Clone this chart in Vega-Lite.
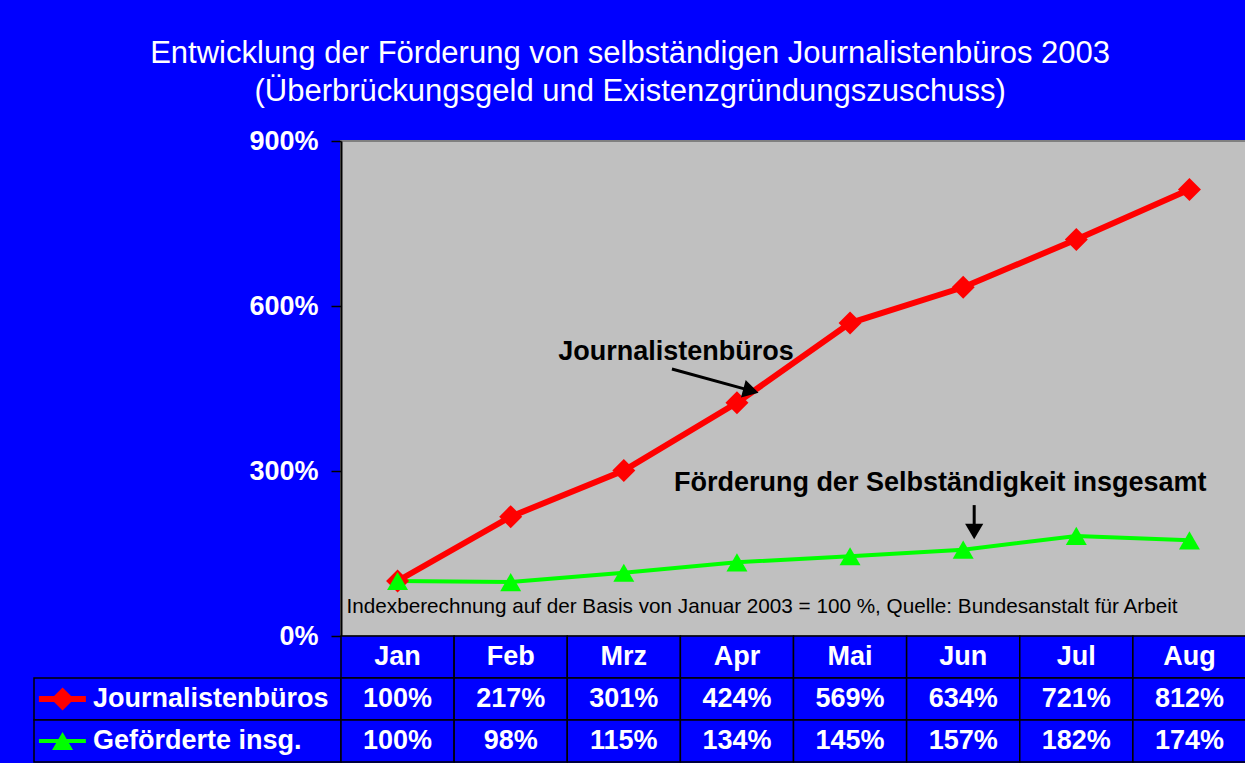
{
  "$schema": "https://vega.github.io/schema/vega-lite/v6.json",
  "background": "#0000FF",
  "padding": {"left": 33, "top": 38, "right": 0, "bottom": 0},
  "datasets": {
    "monate": [
      {"Monat": "Jan", "Journalistenbueros": 100, "Gefoerderte": 100},
      {"Monat": "Feb", "Journalistenbueros": 217, "Gefoerderte": 98},
      {"Monat": "Mrz", "Journalistenbueros": 301, "Gefoerderte": 115},
      {"Monat": "Apr", "Journalistenbueros": 424, "Gefoerderte": 134},
      {"Monat": "Mai", "Journalistenbueros": 569, "Gefoerderte": 145},
      {"Monat": "Jun", "Journalistenbueros": 634, "Gefoerderte": 157},
      {"Monat": "Jul", "Journalistenbueros": 721, "Gefoerderte": 182},
      {"Monat": "Aug", "Journalistenbueros": 812, "Gefoerderte": 174}
    ],
    "reihen": [
      {"Reihe": "Journalistenbueros", "Bezeichnung": "Journalistenbüros"},
      {"Reihe": "Gefoerderte", "Bezeichnung": "Geförderte insg."}
    ],
    "leer": [{"Platz": 1}]
  },
  "title": {
    "text": ["Entwicklung der Förderung von selbständigen Journalistenbüros 2003", "(Überbrückungsgeld und Existenzgründungszuschuss)"],
    "color": "white",
    "font": "Liberation Sans",
    "fontSize": 31,
    "fontWeight": "normal",
    "lineHeight": 38,
    "anchor": "middle",
    "offset": 18,
    "dx": -10
  },
  "config": {
    "view": {"stroke": null},
    "font": "Liberation Sans"
  },
  "columns": 2,
  "bounds": "flush",
  "spacing": 0,
  "concat": [
    {
      "width": 307,
      "height": 495,
      "data": {"name": "leer"},
      "mark": {"type": "point", "opacity": 0},
      "encoding": {}
    },
    {
      "width": 905,
      "height": 495,
      "view": {"fill": "#C0C0C0", "stroke": "#808080", "strokeWidth": 2},
      "layer": [
        {
          "data": {"name": "monate"},
          "transform": [{"fold": ["Journalistenbueros", "Gefoerderte"], "as": ["Reihe", "Wert"]}],
          "mark": {"type": "line"},
          "encoding": {
            "x": {
              "field": "Monat",
              "type": "ordinal",
              "scale": {"type": "band", "domain": ["Jan", "Feb", "Mrz", "Apr", "Mai", "Jun", "Jul", "Aug"], "paddingInner": 0, "paddingOuter": 0},
              "axis": null
            },
            "y": {
              "field": "Wert",
              "type": "quantitative",
              "scale": {"domain": [0, 900], "nice": false},
              "axis": {
                "values": [0, 300, 600, 900],
                "labelExpr": "datum.value + '%'",
                "grid": false,
                "title": null,
                "domainColor": "black",
                "domainWidth": 2,
                "tickColor": "black",
                "tickSize": 10,
                "tickWidth": 1.5,
                "labelColor": "white",
                "labelFont": "Liberation Sans",
                "labelFontSize": 27,
                "labelFontWeight": "bold",
                "labelPadding": 13
              }
            },
            "color": {"field": "Reihe", "type": "nominal", "scale": {"domain": ["Journalistenbueros", "Gefoerderte"], "range": ["#FF0000", "#00FF00"]}, "legend": null},
            "strokeWidth": {"field": "Reihe", "type": "nominal", "scale": {"domain": ["Journalistenbueros", "Gefoerderte"], "range": [6, 4]}, "legend": null}
          }
        },
        {
          "data": {"name": "monate"},
          "transform": [{"fold": ["Journalistenbueros", "Gefoerderte"], "as": ["Reihe", "Wert"]}],
          "mark": {"type": "point", "filled": true, "opacity": 1},
          "encoding": {
            "x": {"field": "Monat", "type": "ordinal"},
            "y": {"field": "Wert", "type": "quantitative"},
            "color": {"field": "Reihe", "type": "nominal", "legend": null},
            "shape": {"field": "Reihe", "type": "nominal", "scale": {"domain": ["Journalistenbueros", "Gefoerderte"], "range": ["diamond", "triangle-up"]}, "legend": null},
            "size": {"field": "Reihe", "type": "nominal", "scale": {"domain": ["Journalistenbueros", "Gefoerderte"], "range": [529, 440]}, "legend": null}
          }
        },
        {
          "data": {"name": "leer"},
          "mark": {"type": "text", "text": "Journalistenbüros", "font": "Liberation Sans", "fontSize": 27, "fontWeight": "bold", "color": "black", "align": "center", "baseline": "middle", "dx": -61},
          "encoding": {"x": {"datum": "Apr", "type": "ordinal"}, "y": {"datum": 516, "type": "quantitative"}}
        },
        {
          "data": {"name": "leer"},
          "mark": {"type": "text", "text": "Förderung der Selbständigkeit insgesamt", "font": "Liberation Sans", "fontSize": 27, "fontWeight": "bold", "color": "black", "align": "center", "baseline": "middle", "dx": -23},
          "encoding": {"x": {"datum": "Jun", "type": "ordinal"}, "y": {"datum": 278, "type": "quantitative"}}
        },
        {
          "data": {"name": "leer"},
          "mark": {"type": "text", "text": "Indexberechnung auf der Basis von Januar 2003 = 100 %, Quelle: Bundesanstalt für Arbeit", "font": "Liberation Sans", "fontSize": 20.7, "fontWeight": "normal", "color": "black", "align": "left", "baseline": "middle", "dx": -51},
          "encoding": {"x": {"datum": "Jan", "type": "ordinal"}, "y": {"datum": 53, "type": "quantitative"}}
        },
        {
          "data": {"name": "leer"},
          "mark": {"type": "rule", "color": "black", "strokeWidth": 3, "xOffset": -65, "x2Offset": 12},
          "encoding": {"x": {"datum": "Apr", "type": "ordinal"}, "x2": {"datum": "Apr"}, "y": {"datum": 485.5, "type": "quantitative"}, "y2": {"datum": 447}}
        },
        {
          "data": {"name": "leer"},
          "mark": {"type": "point", "shape": "triangle-right", "filled": true, "color": "black", "opacity": 1, "size": 330, "angle": 15, "xOffset": 14},
          "encoding": {"x": {"datum": "Apr", "type": "ordinal"}, "y": {"datum": 446, "type": "quantitative"}}
        },
        {
          "data": {"name": "leer"},
          "mark": {"type": "rule", "color": "black", "strokeWidth": 3, "xOffset": 11, "x2Offset": 11},
          "encoding": {"x": {"datum": "Jun", "type": "ordinal"}, "x2": {"datum": "Jun"}, "y": {"datum": 238, "type": "quantitative"}, "y2": {"datum": 200}}
        },
        {
          "data": {"name": "leer"},
          "mark": {"type": "point", "shape": "triangle-down", "filled": true, "color": "black", "opacity": 1, "size": 330, "xOffset": 11},
          "encoding": {"x": {"datum": "Jun", "type": "ordinal"}, "y": {"datum": 190, "type": "quantitative"}}
        }
      ]
    },
    {
      "width": 307,
      "height": 126,
      "data": {"name": "reihen"},
      "encoding": {
        "y": {"field": "Reihe", "type": "nominal", "scale": {"domain": ["Monat", "Journalistenbueros", "Gefoerderte"], "paddingInner": 0, "paddingOuter": 0}, "axis": null}
      },
      "layer": [
        {
          "mark": {"type": "rect", "fill": "#0000FF", "stroke": "black", "strokeWidth": 1.5},
          "encoding": {
            "x": {"datum": 0, "type": "quantitative", "scale": {"domain": [0, 100]}, "axis": null},
            "x2": {"datum": 100}
          }
        },
        {
          "mark": {"type": "rule"},
          "encoding": {
            "x": {"datum": 1.6, "type": "quantitative"},
            "x2": {"datum": 16.9},
            "color": {"field": "Reihe", "type": "nominal", "scale": {"domain": ["Journalistenbueros", "Gefoerderte"], "range": ["#FF0000", "#00FF00"]}, "legend": null},
            "strokeWidth": {"field": "Reihe", "type": "nominal", "scale": {"domain": ["Journalistenbueros", "Gefoerderte"], "range": [6, 4]}, "legend": null}
          }
        },
        {
          "mark": {"type": "point", "filled": true, "opacity": 1},
          "encoding": {
            "x": {"datum": 9.3, "type": "quantitative"},
            "color": {"field": "Reihe", "type": "nominal", "legend": null},
            "shape": {"field": "Reihe", "type": "nominal", "scale": {"domain": ["Journalistenbueros", "Gefoerderte"], "range": ["diamond", "triangle-up"]}, "legend": null},
            "size": {"field": "Reihe", "type": "nominal", "scale": {"domain": ["Journalistenbueros", "Gefoerderte"], "range": [529, 440]}, "legend": null}
          }
        },
        {
          "mark": {"type": "text", "align": "left", "baseline": "middle", "color": "white", "font": "Liberation Sans", "fontSize": 27, "fontWeight": "bold"},
          "encoding": {
            "x": {"datum": 19.2, "type": "quantitative"},
            "text": {"field": "Bezeichnung"}
          }
        }
      ]
    },
    {
      "width": 905,
      "height": 126,
      "data": {"name": "monate"},
      "transform": [{"fold": ["Monat", "Journalistenbueros", "Gefoerderte"], "as": ["Zeile", "Wert"]}],
      "encoding": {
        "x": {"field": "Monat", "type": "ordinal", "scale": {"type": "band", "domain": ["Jan", "Feb", "Mrz", "Apr", "Mai", "Jun", "Jul", "Aug"], "paddingInner": 0, "paddingOuter": 0}, "axis": null},
        "y": {"field": "Zeile", "type": "nominal", "scale": {"domain": ["Monat", "Journalistenbueros", "Gefoerderte"], "paddingInner": 0, "paddingOuter": 0}, "axis": null}
      },
      "layer": [
        {"mark": {"type": "rect", "fill": "#0000FF", "stroke": "black", "strokeWidth": 1.5}},
        {
          "mark": {"type": "text", "align": "center", "baseline": "middle", "color": "white", "font": "Liberation Sans", "fontSize": 27, "fontWeight": "bold",
            "text": {"expr": "datum.Zeile == 'Monat' ? datum.Wert : datum.Wert + '%'"}}
        }
      ]
    }
  ]
}
